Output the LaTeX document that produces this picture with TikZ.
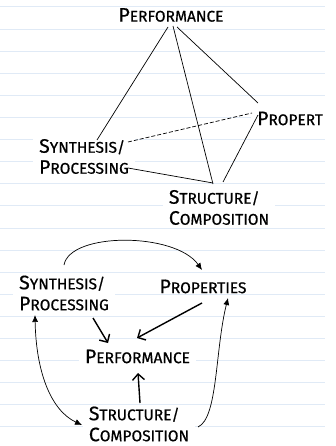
\documentclass[tikz,border=0pt]{standalone}
\usepackage{fontspec}
\setmainfont[FakeBold=0.6]{Fira Sans}
\usepackage{tikz}
\usetikzlibrary{arrows.meta}
\definecolor{ruled}{RGB}{224,234,246}
\newcommand{\sca}[2]{{\fontsize{19.5}{21}\selectfont #1}#2} % fake small caps: big first letter
\newcommand{\wordfont}{\fontsize{15.5}{21}\selectfont}
\tikzset{
word/.style={fill=white, inner xsep=6pt, inner ysep=1pt, align=left, font=\wordfont}, % labels cut the ruling
link/.style={line width=0.7pt}, % edges of the tetrahedron
hint/.style={line width=0.7pt, dash pattern=on 4pt off 2pt}, % hidden edge
flow/.style={line width=0.7pt, -{Latex[length=7pt,width=6pt]}}, % thin curved arrows
both/.style={line width=0.7pt, {Latex[length=7pt,width=6pt]}-{Latex[length=7pt,width=6pt]}}, % thin double arrow
push/.style={line width=1.4pt, -{Straight Barb[length=6pt,width=12pt]}}, % bold arrows
rule/.style={draw=ruled, line width=1pt}, % notebook lines
}
\begin{document}
\begin{tikzpicture}[x=1pt, y=-1pt]
\useasboundingbox (0,0) rectangle (335,446);
% ruled paper
\foreach \k in {0,...,19}
  \draw[rule] (0,7+22.1*\k) -- (325,7+22.1*\k);

% tetrahedron
\node[word] (perfA) at (171,15) {\sca{P}{ERFORMANCE}};
\node[word] (propA) at (290,118.5) {\sca{P}{ROPERT}};
\node[word] (synA) at (84,156.5) {\sca{S}{YNTHESIS/}\\\sca{P}{ROCESSING}};
\node[word] (strA) at (219,207.5) {\sca{S}{TRUCTURE/}\\\sca{C}{OMPOSITION}};

\draw[link]
([shift={(-3,12)}]perfA.center) edge ([shift={(13,-16.5)}]synA.center)
([shift={(2,11)}]perfA.center) edge ([shift={(-6,-23.5)}]strA.center)
([shift={(6,12)}]perfA.center) edge ([shift={(-32,-15.5)}]propA.center)
([shift={(44,11.5)}]synA.center) edge ([shift={(-6,-24.5)}]strA.center)
([shift={(-32,-3.5)}]propA.center) edge ([shift={(4,-25.5)}]strA.center);
\draw[hint] ([shift={(44,-14.5)}]synA.center) -- ([shift={(-38,-5.5)}]propA.center);

% cycle
\node[word] (synB) at (64,293) {\sca{S}{YNTHESIS/}\\\sca{P}{ROCESSING}};
\node[word] (propB) at (203,286.5) {\sca{P}{ROPERTIES}};
\node[word] (perfB) at (137.5,356.5) {\sca{P}{ERFORMANCE}};
\node[word] (strB) at (139,424) {\sca{S}{TRUCTURE/}\\\sca{C}{OMPOSITION}};

\draw[push] ([shift={(29,25)}]synB.center) -- ([shift={(-29.5,-13.5)}]perfB.center);
\draw[push] ([shift={(-1,16.5)}]propB.center) -- ([shift={(-0.5,-18.5)}]perfB.center);
\draw[push] ([shift={(1,-21)}]strB.center) -- ([shift={(0.5,16.5)}]perfB.center);

\draw[flow] ([shift={(0,-28)}]synB.center) .. controls (70,232) and (175,232) .. ([shift={(-1,-16.5)}]propB.center);
\draw[both] ([shift={(-29,22)}]synB.center) .. controls (36,370) and (50,410) .. ([shift={(-57,1)}]strB.center);
\draw[flow] ([shift={(59,3)}]strB.center) .. controls (218,418) and (215,350) .. ([shift={(25,11.5)}]propB.center);
\end{tikzpicture}
\end{document}
